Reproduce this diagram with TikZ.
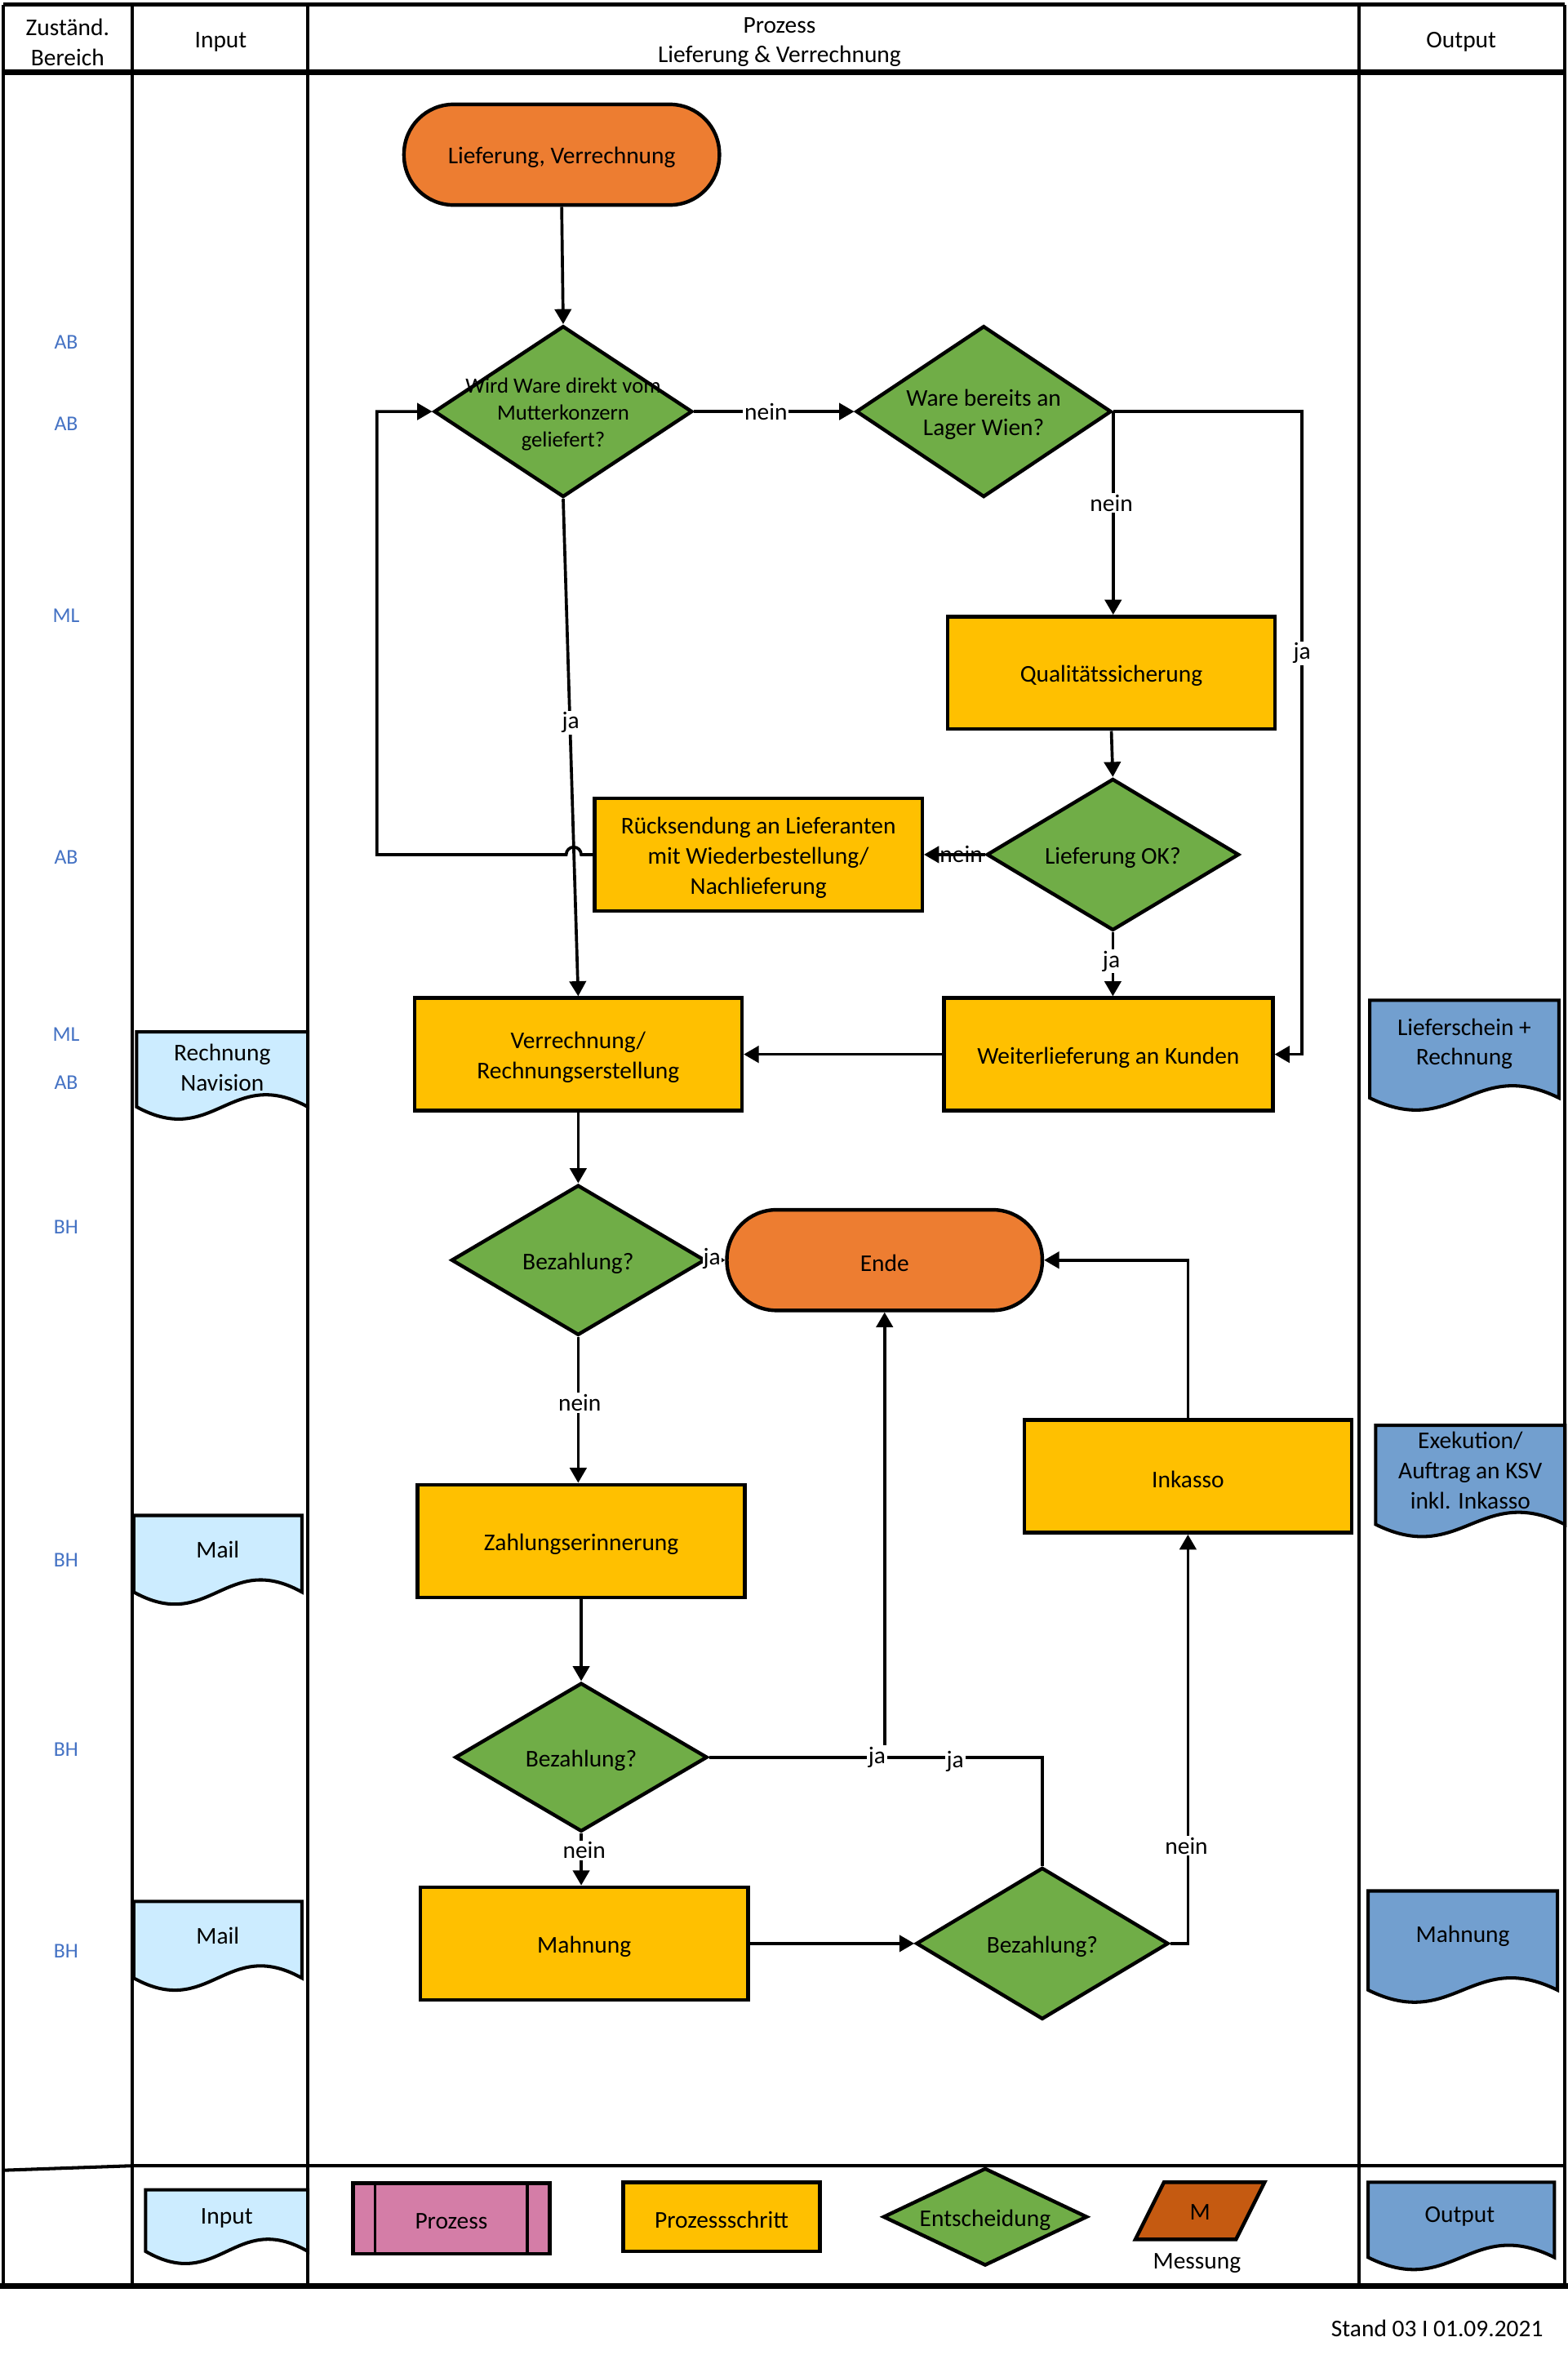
\documentclass[tikz,border=0pt]{standalone}
\usepackage{fontspec}
\setmainfont{Carlito}
\usetikzlibrary{arrows.meta,shapes.geometric,calc}
\definecolor{orng}{HTML}{ED7D31}
\definecolor{grn}{HTML}{70AD47}
\definecolor{ylw}{HTML}{FFC000}
\definecolor{lblue}{HTML}{CCECFF}
\definecolor{oblue}{HTML}{729FCF}
\definecolor{pnk}{HTML}{D47DA7}
\definecolor{brn}{HTML}{C55A11}
\definecolor{rolec}{HTML}{4472C4}
\newcommand{\docshape}[5]{% x0,x1,top,yb,fill
  \path[draw, line width=2.2, fill=#5] (#1,#3) -- (#2,#3) -- (#2,#4)
    .. controls ({#1+0.55*(#2-#1)},{#4-28}) and ({#1+0.45*(#2-#1)},{#4+28}) .. (#1,#4) -- cycle;}
\newcommand{\btext}[2]{\node[tx, align=center] (#1t) at (#1) {#2};}
\begin{document}
\begin{tikzpicture}[x=1pt,y=-1pt,
  every node/.style={font=\fontsize{16}{20}\selectfont, text=black},
  tx/.style={yshift=-2pt},
  term/.style={draw, line width=2.4, fill=orng, rounded corners=33, minimum width=210, minimum height=67, inner sep=0},
  stepbox/.style={draw, line width=2.4, fill=ylw, minimum width=218, minimum height=75, inner sep=0},
  dia/.style={draw, line width=2.4, fill=grn, diamond, inner sep=0},
  conn/.style={line width=2, -{Triangle[length=10pt,width=11pt]}},
  plain/.style={line width=2},
  lbl/.style={fill=white, inner sep=1},
  role/.style={tx, text=rolec, font=\fontsize{14}{16}\selectfont},
  frame/.style={line width=2.2},
  thickframe/.style={line width=3.6}
]
\useasboundingbox (0,0) rectangle (1044,1568);
\fill[white] (0,0) rectangle (1044,1568);

% ---- frame
\draw[frame] (2,3) -- (1042,3);
\draw[frame] (2,3) -- (2,1522);
\draw[frame] (1042,3) -- (1042,1522);
\draw[frame] (88,3) -- (88,1522);
\draw[frame] (205,3) -- (205,1522);
\draw[frame] (905,3) -- (905,1522);
\draw[thickframe] (2,48) -- (1042,48);
\draw[frame] (2,1445) -- (88,1442) -- (1042,1442);
\draw[thickframe] (0,1522) -- (1044,1522);

% ---- header
\node[tx, align=center] (h1) at (45,26) {Zuständ.\\Bereich};
\node[tx] (h2) at (147,26) {Input};
\node[tx, align=center] (h3) at (519,26) {Prozess\\Lieferung \& Verrechnung};
\node[tx] (h4) at (973,26) {Output};

% ---- role labels
\node[role] (r1) at (44,226) {AB};
\node[role] (r2) at (44,280) {AB};
\node[role] (r3) at (44,408) {ML};
\node[role] (r4) at (44,569) {AB};
\node[role] (r5) at (44,687) {ML};
\node[role] (r6) at (44,719) {AB};
\node[role] (r7) at (44,815) {BH};
\node[role] (r8) at (44,1037) {BH};
\node[role] (r9) at (44,1163) {BH};
\node[role] (r10) at (44,1297) {BH};

% ---- input documents
\docshape{91}{205}{687}{737}{lblue}
\node[tx, align=center] (in1) at (148,709) {Rechnung\\Navision};
\docshape{89}{201}{1009}{1060}{lblue}
\node[tx] (in2) at (145,1030) {Mail};
\docshape{89}{201}{1266}{1317}{lblue}
\node[tx] (in3) at (145,1287) {Mail};

% ---- output documents
\docshape{912}{1038}{666}{731}{oblue}
\node[tx, align=center] (o1) at (975,693) {Lieferschein +\\Rechnung};
\docshape{916}{1042}{949}{1015}{oblue}
\node[tx, align=center] (o2) at (979,977) {Exekution/\\Auftrag an KSV\\inkl. Inkasso};
\docshape{911}{1037}{1259}{1325}{oblue}
\node[tx] (o3) at (974,1287) {Mahnung};

% ---- process nodes
\node[term] (start) at (374,103) {};
\btext{start}{Lieferung, Verrechnung}
\node[dia, minimum width=172, minimum height=114] (d1) at (375,274) {};
\node[tx, align=center, font=\fontsize{14.5}{18}\selectfont] (d1t) at (375,274) {Wird Ware direkt vom\\Mutterkonzern\\geliefert?};
\node[dia, minimum width=170, minimum height=114] (d2) at (655,274) {};
\btext{d2}{Ware bereits an\\Lager Wien?}
\node[stepbox] (qs) at (740,448) {};
\btext{qs}{Qualitätssicherung}
\node[dia, minimum width=168, minimum height=101] (d3) at (741,569) {};
\btext{d3}{Lieferung OK?}
\node[stepbox] (rueck) at (505,569) {};
\btext{rueck}{Rücksendung an Lieferanten\\mit Wiederbestellung/\\Nachlieferung}
\node[stepbox] (verr) at (385,702) {};
\btext{verr}{Verrechnung/\\Rechnungserstellung}
\node[stepbox, minimum width=219] (weiter) at (738,702) {};
\btext{weiter}{Weiterlieferung an Kunden}
\node[dia, minimum width=169, minimum height=100] (d4) at (385,839) {};
\btext{d4}{Bezahlung?}
\node[term] (ende) at (589,839) {};
\btext{ende}{Ende}
\node[stepbox] (ink) at (791,983) {};
\btext{ink}{Inkasso}
\node[stepbox] (ze) at (387,1026) {};
\btext{ze}{Zahlungserinnerung}
\node[dia, minimum width=168, minimum height=99] (d5) at (387,1170) {};
\btext{d5}{Bezahlung?}
\node[stepbox] (mahn) at (389,1294) {};
\btext{mahn}{Mahnung}
\node[dia, minimum width=168, minimum height=101] (d6) at (694,1294) {};
\btext{d6}{Bezahlung?}

% ---- helper coordinates
\coordinate (cja) at (867,274);
\coordinate (lp) at (251,569);
\coordinate (jj) at (589,1170);

% ---- connectors
\draw[conn] (start.south) -- (d1.north);
\draw[conn] (d1.east) -- (d2.west);
\node[lbl] (l1) at (510,274) {nein};
\draw[conn] (d2.east) -- (d2.east |- qs.north);
\node[lbl] (l2) at (740,335) {nein};
\draw[conn] (d2.east) -- (cja) |- (weiter.east);
\node[lbl] (l3) at (867,435) {ja};
\draw[conn] (qs.south) -- (d3.north);
\draw[conn] (d3.west) -- (rueck.east);
\node[lbl, fill=none] (l4) at (640,569) {nein};
\draw[conn] (d1.south) -- (verr.north);
\node[lbl] (l5) at (380,481) {ja};
\draw[conn] (rueck.west) -- (387,569) arc[start angle=0, end angle=-180, radius=5] -- (lp) |- (d1.west);
\draw[conn] (d3.south) -- (d3.south |- weiter.north);
\node[lbl] (l6) at (740,640) {ja};
\draw[conn] (weiter.west) -- (verr.east);
\draw[conn] (verr.south) -- (d4.north);
\draw[line width=2, -{Triangle[length=5pt,width=6pt]}] (d4.east) -- (ende.west);
\node[fill=white, inner sep=0.5] (l7) at (474,838) {ja};
\draw[conn] (d4.south) -- (d4.south |- ze.north);
\node[lbl] (l8) at (386,934) {nein};
\draw[conn] (ze.south) -- (d5.north);
\draw[conn] (d5.east) -- (jj) -- (ende.south);
\draw[plain] (d6.north) |- (jj);
\node[lbl] (l9) at (584,1170) {ja};
\node[lbl] (l10) at (636,1173) {ja};
\draw[conn] (d5.south) -- (d5.south |- mahn.north);
\node[lbl] (l11) at (389,1232) {nein};
\draw[conn] (mahn.east) -- (d6.west);
\draw[conn] (d6.east) -| (ink.south);
\node[lbl] (l12) at (790,1229) {nein};
\draw[conn] (ink.north) |- (ende.east);

% ---- legend
\docshape{97}{205}{1458}{1499}{lblue}
\node[tx] (lg1) at (151,1475) {Input};
\node[draw, line width=2.4, fill=pnk, minimum width=131, minimum height=47, inner sep=0] (lg2) at (300.5,1477) {};
\btext{lg2}{Prozess}
\draw[line width=2] ($(lg2.north west)+(16,0)$) -- ($(lg2.south west)+(16,0)$);
\draw[line width=2] ($(lg2.north east)+(-16,0)$) -- ($(lg2.south east)+(-16,0)$);
\node[stepbox, minimum width=131, minimum height=46] (lg3) at (480.5,1476) {};
\btext{lg3}{Prozessschritt}
\node[dia, minimum width=136, minimum height=65] (lg4) at (656,1476) {};
\btext{lg4}{Entscheidung}
\path[draw, line width=2.4, fill=brn] (775,1453) -- (842,1453) -- (823,1491) -- (756,1491) -- cycle;
\node[tx] (lg5) at (799,1471) {M};
\node[tx] (lg6) at (797,1505) {Messung};
\docshape{911}{1035}{1453}{1503}{oblue}
\node[tx] (lg7) at (972,1474) {Output};

\node[tx, anchor=east] (stand) at (1031,1548) {Stand 03 I 01.09.2021};
\end{tikzpicture}
\end{document}
